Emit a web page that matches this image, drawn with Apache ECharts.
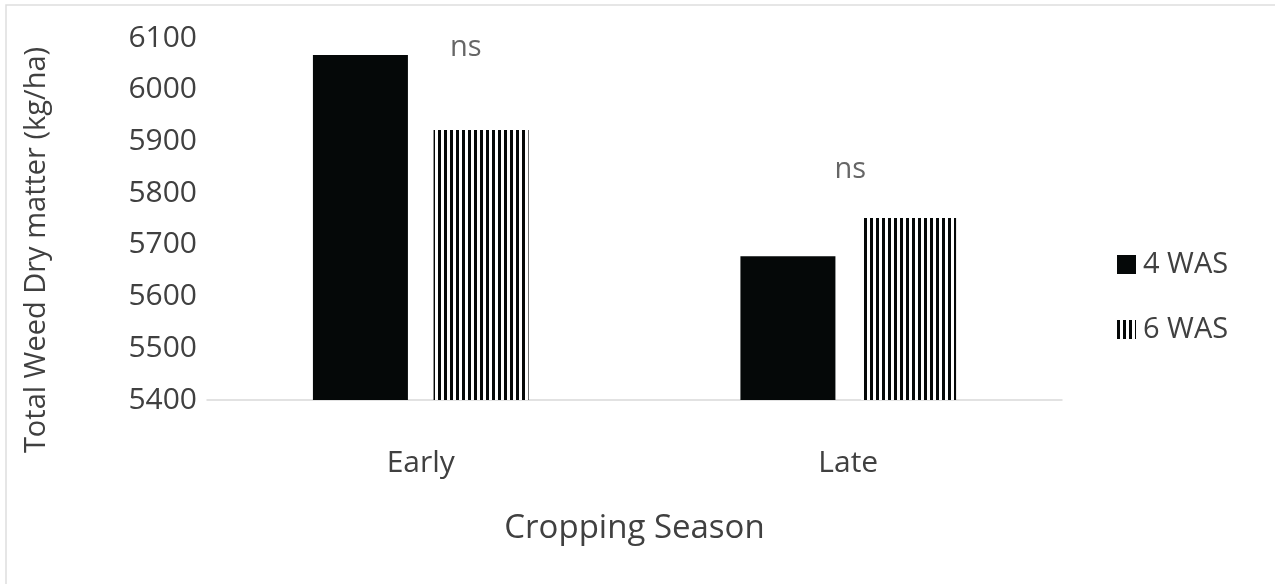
<!DOCTYPE html>
<html>
<head>
<meta charset="utf-8">
<script src="https://cdn.jsdelivr.net/npm/echarts@6/dist/echarts.min.js"></script>
<style>
html,body{margin:0;padding:0;background:#fff;}
#main{width:1275px;height:584px;}
</style>
</head>
<body>
<div id="main"></div>
<script>
var seasons = ['Early', 'Late'];
var was4 = [6067, 5678];
var was6 = [5922, 5752];
var nsY = [6081, 5845];
var nsText = ['ns', 'ns'];
var yTicks = [5400, 5500, 5600, 5700, 5800, 5900, 6000, 6100];

// vertical stripe fill
function stripes(){
	var c = document.createElement('canvas');
	c.width = 6; c.height = 6;
	var ctx = c.getContext('2d');
	ctx.fillStyle = '#fff';
	ctx.fillRect(0, 0, 6, 6);
	ctx.fillStyle = '#050808';
	ctx.fillRect(0, 0, 3, 6);
	return c;
}

var font = '"Open Sans", Lato, sans-serif';
var txt = '#404040';
var myChart = echarts.init(document.getElementById('main'));

var option = {
	animation: false,
	backgroundColor: '#fff',
	textStyle: {fontFamily: font},
	graphic: [{
		type: 'rect',
		shape: {x: 6, y: 5, width: 1300, height: 620},
		style: {fill: 'none', stroke: '#dedede', lineWidth: 1.5},
		silent: true
	}, {
		type: 'text',
		x: 37,
		y: 250,
		rotation: Math.PI / 2,
		style: {
			text: 'Total Weed Dry matter (kg/ha)',
			font: '29px ' + font,
			fill: txt,
			textAlign: 'center',
			textVerticalAlign: 'middle'
		},
		silent: true
	}],
	grid: {left: 207, right: 213, top: 38, bottom: 184},
	legend: {
		orient: 'vertical',
		left: 1112,
		top: 245,
		icon: 'rect',
		itemWidth: 19,
		itemHeight: 19,
		itemGap: 36,
		data: ['4 WAS', '6 WAS'],
		textStyle: {fontFamily: font, fontSize: 29, color: txt, padding: [0, 0, 0, 2]}
	},
	xAxis: {
		type: 'category',
		data: seasons,
		name: 'Cropping Season',
		nameLocation: 'middle',
		nameGap: 112,
		nameTextStyle: {fontSize: 33, color: txt},
		axisLine: {lineStyle: {color: '#d9d9d9', width: 1.5}},
		axisTick: {show: false},
		axisLabel: {fontSize: 30, color: txt, margin: 48}
	},
	yAxis: {
		type: 'value',
		min: yTicks[0],
		max: yTicks[yTicks.length - 1],
		interval: 100,
		axisLine: {show: false},
		axisTick: {show: false},
		splitLine: {show: false},
		axisLabel: {fontSize: 30, color: txt, margin: 10, formatter: function(v){ return String(v); }}
	},
	series: [{
		name: '4 WAS',
		type: 'bar',
		data: was4,
		barWidth: 95,
		barGap: '27%',
		itemStyle: {color: '#050808'}
	}, {
		name: '6 WAS',
		type: 'bar',
		data: was6,
		barWidth: 95,
		itemStyle: {color: {image: stripes(), repeat: 'repeat'}}
	}, {
		name: 'ns',
		type: 'scatter',
		data: nsY.map(function(v, i){
			return {
				value: [seasons[i], v],
				label: {offset: i === 0 ? [45, 0] : [2, 0]}
			};
		}),
		symbolSize: 0,
		silent: true,
		label: {
			show: true,
			position: 'inside',
			formatter: function(p){ return nsText[p.dataIndex]; },
			fontSize: 29,
			color: txt,
			fontFamily: font
		}
	}]
};
myChart.setOption(option);
</script>
</body>
</html>
